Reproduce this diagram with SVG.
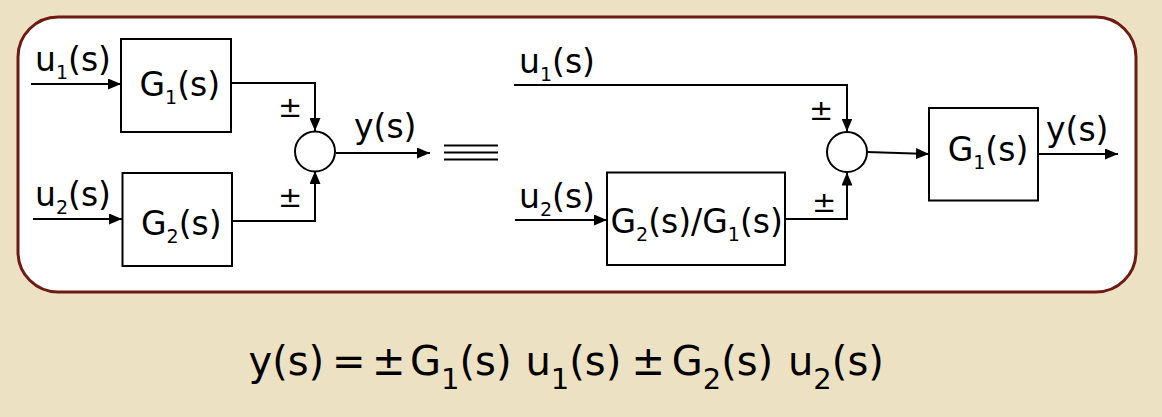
<svg xmlns="http://www.w3.org/2000/svg" width="1162" height="417" viewBox="0 0 1162 417">
<defs>
<marker id="ah" markerUnits="userSpaceOnUse" markerWidth="13" markerHeight="11" refX="13" refY="5.5" orient="auto">
<path d="M0,0 L13,5.5 L0,11 z" fill="#000"/>
</marker>
<style>
.lbl{font-family:"DejaVu Sans",sans-serif;font-size:33px;fill:#000}
.pm{font-family:"DejaVu Sans",sans-serif;font-size:29px;fill:#000}
.sub{font-size:19px}
.box{fill:#fff;stroke:#000;stroke-width:2}
.sum{fill:#fff;stroke:#000;stroke-width:2}
.wire{fill:none;stroke:#000;stroke-width:2}
.arr{marker-end:url(#ah)}
.eq{font-family:"DejaVu Sans",sans-serif;font-size:40px;fill:#000}
.eqs{font-size:29px}
</style>
</defs>
<rect x="0" y="0" width="1162" height="417" fill="#ede1c4"/>
<rect x="18" y="17" width="1118" height="275" rx="40" ry="40" fill="#fff" stroke="#6e1a12" stroke-width="3"/>

<g id="connectors">
<path class="wire arr" d="M31,84 H121"/>
<path class="wire arr" d="M33,219 H122"/>
<path class="wire arr" d="M231,83 H315 V131"/>
<path class="wire arr" d="M232,221 H315 V171"/>
<path class="wire arr" d="M336,153 H430"/>
<path class="wire" d="M444,145.5 H498 M444,152.5 H498 M444,159.5 H498" stroke-width="2.2"/>
<path class="wire arr" d="M514,85 H847 V131.5"/>
<path class="wire arr" d="M515,220 H607"/>
<path class="wire arr" d="M785,219 H847 V172.5"/>
<path class="wire arr" d="M867,152 L929,154"/>
<path class="wire arr" d="M1038,154 H1118"/>
</g>

<g id="G1_left">
<rect class="box" x="121" y="39" width="110" height="93"/>
<text class="lbl" x="139.5" y="96">G<tspan class="sub" dy="8">1</tspan><tspan dy="-8">(s)</tspan></text>
</g>
<g id="G2_left">
<rect class="box" x="122.5" y="173" width="109.5" height="93"/>
<text class="lbl" x="141" y="234.5">G<tspan class="sub" dy="8">2</tspan><tspan dy="-8">(s)</tspan></text>
</g>
<g id="sum_left">
<circle class="sum" cx="315" cy="151.5" r="20"/>
</g>
<g id="labels_left">
<text class="lbl" x="35" y="71">u<tspan class="sub" dy="8">1</tspan><tspan dy="-8">(s)</tspan></text>
<text class="lbl" x="35" y="206">u<tspan class="sub" dy="8">2</tspan><tspan dy="-8">(s)</tspan></text>
<text class="lbl" x="354" y="137.5">y(s)</text>
<text class="pm" x="278" y="117">±</text>
<text class="pm" x="278" y="207">±</text>
</g>

<g id="G2G1_right">
<rect class="box" x="607" y="172.5" width="178" height="92.5"/>
<text class="lbl" x="610.5" y="232.5">G<tspan class="sub" dy="8">2</tspan><tspan dy="-8">(s)/G</tspan><tspan class="sub" dy="8">1</tspan><tspan dy="-8">(s)</tspan></text>
</g>
<g id="sum_right">
<circle class="sum" cx="847" cy="152" r="20"/>
</g>
<g id="G1_right">
<rect class="box" x="929" y="108" width="109" height="92.5"/>
<text class="lbl" x="947.7" y="161">G<tspan class="sub" dy="8">1</tspan><tspan dy="-8">(s)</tspan></text>
</g>
<g id="labels_right">
<text class="lbl" x="519" y="73">u<tspan class="sub" dy="8">1</tspan><tspan dy="-8">(s)</tspan></text>
<text class="lbl" x="519" y="208">u<tspan class="sub" dy="8">2</tspan><tspan dy="-8">(s)</tspan></text>
<text class="lbl" x="1046" y="141">y(s)</text>
<text class="pm" x="809" y="120">±</text>
<text class="pm" x="812" y="212">±</text>
</g>

<g id="equation">
<text class="eq"><tspan x="248.5" y="375">y(s)</tspan><tspan x="332" y="375">=</tspan><tspan x="372" y="375">±</tspan><tspan x="410" y="375">G</tspan><tspan class="eqs" y="389">1</tspan><tspan y="375">(s)</tspan><tspan x="525.4" y="375">u</tspan><tspan class="eqs" y="389">1</tspan><tspan y="375">(s)</tspan><tspan x="631.5" y="375">±</tspan><tspan x="671.7" y="375">G</tspan><tspan class="eqs" y="389">2</tspan><tspan y="375">(s)</tspan><tspan x="788" y="375">u</tspan><tspan class="eqs" y="389">2</tspan><tspan y="375">(s)</tspan></text>
</g>
</svg>
